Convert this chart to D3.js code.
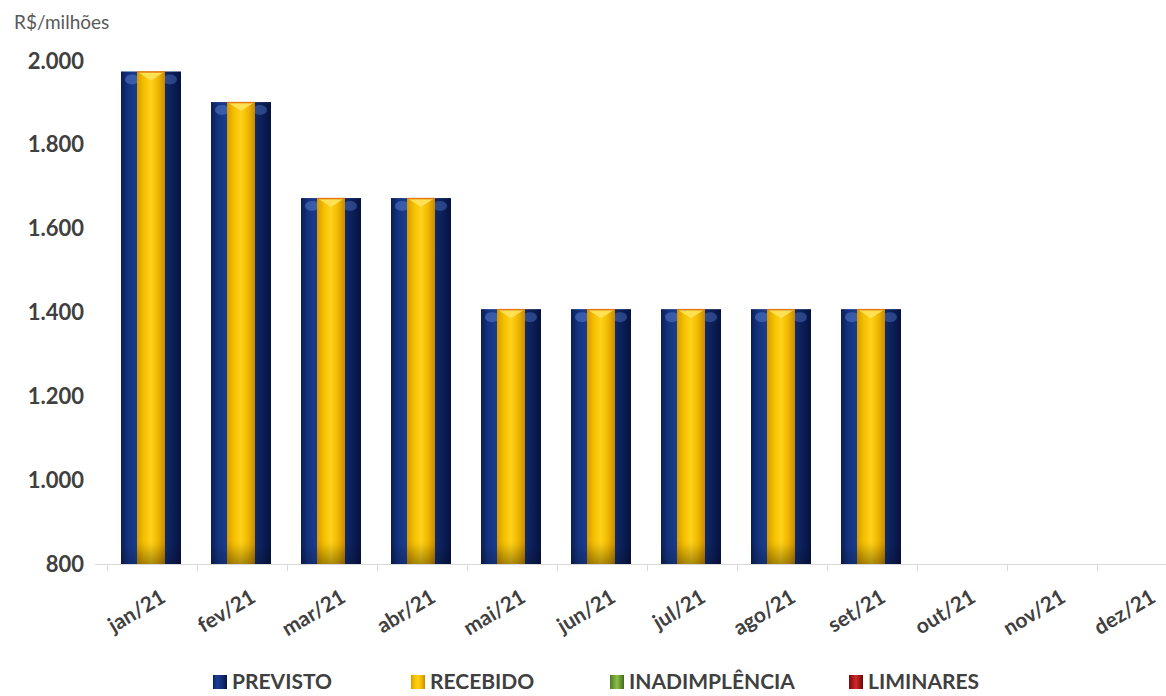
<!DOCTYPE html>
<html><head><meta charset="utf-8">
<script src="https://cdn.jsdelivr.net/npm/d3@7/dist/d3.min.js"></script>
<style>body{margin:0;background:#fff;overflow:hidden}svg{display:block}</style>
</head><body><svg id="c" width="1166" height="696"></svg>
<script>
const categories = ["jan/21","fev/21","mar/21","abr/21","mai/21","jun/21","jul/21","ago/21","set/21","out/21","nov/21","dez/21"];
const previsto = [1975,1902,1673,1673,1408,1408,1408,1408,1408,null,null,null];
const recebido = [1975,1902,1673,1673,1408,1408,1408,1408,1408,null,null,null];
const inadimplencia = [0,0,0,0,0,0,0,0,0,null,null,null];
const liminares = [0,0,0,0,0,0,0,0,0,null,null,null];
const yTicks = [800,1000,1200,1400,1600,1800,2000];
const legendNames = ["PREVISTO","RECEBIDO","INADIMPLÊNCIA","LIMINARES"];

const svg = d3.select("#c");
const font = "Lato, 'Open Sans', sans-serif";
const x = d3.scaleBand().domain(categories).range([107, 1187]).paddingInner(0).paddingOuter(0);
const y = d3.scaleLinear().domain([800, 2000]).range([564, 61]);

const defs = svg.append("defs");
function hGrad(id, stops){
  const g = defs.append("linearGradient").attr("id", id).attr("x1","0").attr("x2","1").attr("y1","0").attr("y2","0");
  stops.forEach(s => g.append("stop").attr("offset", s[0]).attr("stop-color", s[1]));
}
hGrad("gBlue", [[0,"#0b1d55"],[0.12,"#14337f"],[0.3,"#1c3f91"],[0.5,"#163582"],[0.75,"#0f2868"],[1,"#061240"]]);
hGrad("gYel", [[0,"#d79a00"],[0.25,"#f5c000"],[0.5,"#ffd21a"],[0.75,"#f0b800"],[1,"#c98a00"]]);
hGrad("gGreen", [[0,"#4e7a22"],[0.5,"#8cc04a"],[1,"#3f6a1a"]]);
hGrad("gRed", [[0,"#7a0a0a"],[0.5,"#d22a2a"],[1,"#6a0606"]]);
const vg = defs.append("linearGradient").attr("id","gShade").attr("x1","0").attr("x2","0").attr("y1","0").attr("y2","1");
vg.append("stop").attr("offset",0).attr("stop-color","#000").attr("stop-opacity",0);
vg.append("stop").attr("offset",1).attr("stop-color","#000").attr("stop-opacity",0.18);

// y axis labels
svg.append("text").attr("x",14).attr("y",29).text("R$/milhões")
  .attr("font-family",font).attr("font-size",19).attr("fill","#595959");
const yAxis = d3.axisLeft(y).tickValues(yTicks).tickSize(0).tickPadding(0)
  .tickFormat(d => d3.format(",")(d).replace(/,/g,"."));
const ya = svg.append("g").attr("transform","translate(84,0)").call(yAxis);
ya.select(".domain").remove();
ya.selectAll("text").attr("font-family",font).attr("font-size",22).attr("font-weight","bold").attr("fill","#404040");

// x axis
const xa = svg.append("g").attr("transform","translate(0,564)")
  .call(d3.axisBottom(x).tickSize(0).tickFormat(""));
xa.select(".domain").attr("stroke","#d9d9d9").attr("d","M95,0.5H1166");
const tickPos = categories.map((c,i)=> x(c)).concat([x.range()[1]]);
svg.append("g").selectAll("line").data(tickPos.filter(t=>t<1166)).join("line")
  .attr("x1",d=>d+0.5).attr("x2",d=>d+0.5).attr("y1",564).attr("y2",571).attr("stroke","#d9d9d9");
svg.append("g").selectAll("text").data(categories).join("text")
  .attr("transform", d => `translate(${x(d)+x.bandwidth()/2+15},${601}) rotate(-31)`)
  .attr("text-anchor","end").attr("font-family",font).attr("font-size",21).attr("font-weight","bold")
  .attr("fill","#404040").text(d=>d);

// bars
const bw = x.bandwidth();
const outerW = 60, innerW = 28;
const gB = svg.append("g");
categories.forEach((c,i)=>{
  if (previsto[i] == null) return;
  const cx = x(c) + bw/2 - 1;
  const top = y(previsto[i]);
  gB.append("rect").attr("x", cx-outerW/2).attr("y", top).attr("width", outerW).attr("height", 564-top).attr("fill","url(#gBlue)");
  gB.append("ellipse").attr("cx", cx-outerW/2+11).attr("cy", top+8).attr("rx",7).attr("ry",5).attr("fill","#5a7fd0").attr("opacity",0.5);
  gB.append("ellipse").attr("cx", cx+outerW/2-11).attr("cy", top+8).attr("rx",7).attr("ry",5).attr("fill","#5a7fd0").attr("opacity",0.4);
  const rt = y(recebido[i]);
  gB.append("rect").attr("x", cx-innerW/2).attr("y", rt).attr("width", innerW).attr("height", 564-rt).attr("fill","url(#gYel)");
  gB.append("rect").attr("x", cx-innerW/2).attr("y", 540).attr("width", innerW).attr("height", 24).attr("fill","url(#gShade)");
  gB.append("rect").attr("x", cx-outerW/2).attr("y", 545).attr("width", outerW).attr("height", 19).attr("fill","url(#gShade)");
  gB.append("path").attr("d", `M${cx-innerW/2},${rt}L${cx+innerW/2},${rt}L${cx},${rt+9}Z`).attr("fill","#ffe35a").attr("opacity",0.9);
  gB.append("line").attr("x1",cx-innerW/2).attr("x2",cx+innerW/2).attr("y1",rt+0.5).attr("y2",rt+0.5).attr("stroke","#e07a10").attr("stroke-width",1.5);
});

// legend
const legX = [213, 411, 610, 849];
const legFill = ["url(#gBlue)","url(#gYel)","url(#gGreen)","url(#gRed)"];
const lg = svg.append("g");
legendNames.forEach((n,i)=>{
  lg.append("rect").attr("x",legX[i]).attr("y",675).attr("width",14).attr("height",14).attr("fill",legFill[i]);
  lg.append("text").attr("x",legX[i]+19).attr("y",689).text(n)
    .attr("font-family",font).attr("font-size",21).attr("font-weight","bold").attr("fill","#404040");
});
</script></body></html>
